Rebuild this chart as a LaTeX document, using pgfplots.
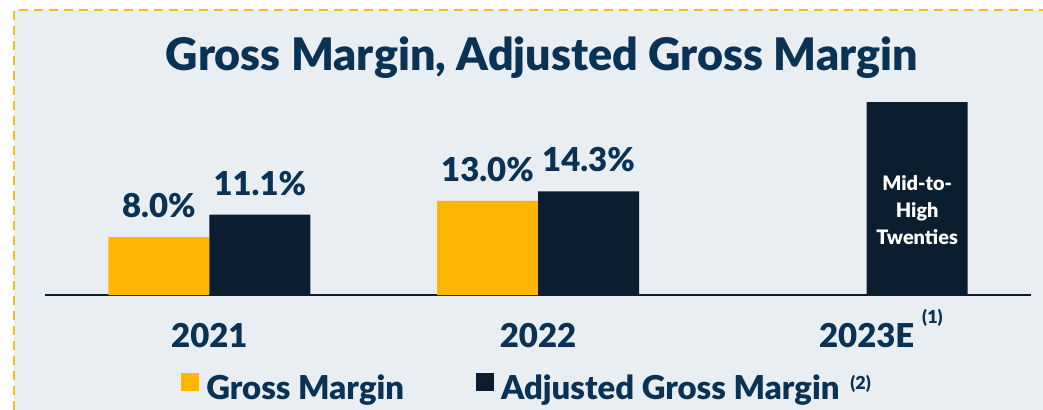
\documentclass[border=0pt]{standalone}
\usepackage{pgfplots}
\pgfplotsset{compat=1.18}
\usepackage{fontspec}
\setmainfont{Lato}[BoldFont={Lato Black}]

\definecolor{gmyellow}{RGB}{255,182,0}
\definecolor{gmnavy}{RGB}{11,30,48}
\definecolor{txtnavy}{RGB}{10,50,85}
\definecolor{panelbg}{RGB}{233,238,242}
\definecolor{borderyl}{RGB}{245,188,30}

\begin{document}
\begin{tikzpicture}
\useasboundingbox (0,0) rectangle (1043bp,410bp);
\fill[white] (0,0) rectangle (1043bp,410bp);
\fill[panelbg] (14bp,0) rectangle (1043bp,400bp);
\draw[borderyl, line width=2bp, dash pattern=on 9bp off 6bp] (14bp,0) -- (14bp,400bp) -- (1043bp,400bp);

% title
\node[font=\bfseries\fontsize{45}{52}\selectfont, text=txtnavy, anchor=base]
  at (542bp,339bp) {Gross Margin, Adjusted Gross Margin};

\begin{axis}[
    at={(45bp,115bp)}, anchor=south west,
    scale only axis,
    width=986bp, height=217.5bp,
    xmin=-0.5, xmax=2.5,
    ymin=0, ymax=30,
    axis x line*=bottom,
    axis y line=none,
    x axis line style={line width=2bp, color=gmnavy},
    xtick={0,1,2},
    xticklabels={2021,2022,{2023E\rlap{\hspace{8bp}\raisebox{24bp}{\fontsize{18}{20}\selectfont(1)}}}},
    major tick length=0pt,
    xticklabel style={font=\bfseries\fontsize{33}{38}\selectfont, text=txtnavy, anchor=base, yshift=-52bp},
    ytick=\empty,
    ybar,
    bar width=101bp,
    clip=false,
    nodes near coords,
    point meta=explicit symbolic,
    every node near coord/.append style={font=\bfseries\fontsize{33}{38}\selectfont, text=txtnavy, anchor=south, inner sep=0pt, yshift=19bp},
    legend style={
        at={(0.472,-0.425)}, anchor=center,
        draw=none, fill=none,
        legend columns=2,
        font=\bfseries\fontsize{33}{38}\selectfont,
        text=txtnavy,
        nodes={inner sep=0pt},
        /tikz/every odd column/.append style={column sep=7bp},
        /tikz/every even column/.append style={column sep=72bp}
    },
]

% Gross Margin
\addplot[fill=gmyellow, draw=none, bar shift=-50.5bp,
    legend image code/.code={\fill[gmyellow] (0bp,-3bp) rectangle (18bp,15bp);}]
coordinates {
(0,8.0)[8.0\%]
(1,13.0)[13.0\%]
};
\addlegendentry{Gross Margin}

% Adjusted Gross Margin
\addplot[fill=gmnavy, draw=none, bar shift=50.5bp,
    legend image code/.code={\fill[gmnavy] (0bp,-3bp) rectangle (18bp,15bp);}]
coordinates {
(0,11.1)[11.1\%]
(1,14.3)[14.3\%]
(2,26.6)[\mbox{}]
};
\addlegendentry{Adjusted Gross Margin\rlap{\hspace{11bp}\raisebox{10bp}{\fontsize{18}{20}\selectfont(2)}}}

\node[align=center, text=white, font=\bfseries\fontsize{20}{27}\selectfont, xshift=50.5bp]
  at (axis cs:2,11.72) {Mid-to-\\High\\Twenties};

\end{axis}
\end{tikzpicture}
\end{document}
